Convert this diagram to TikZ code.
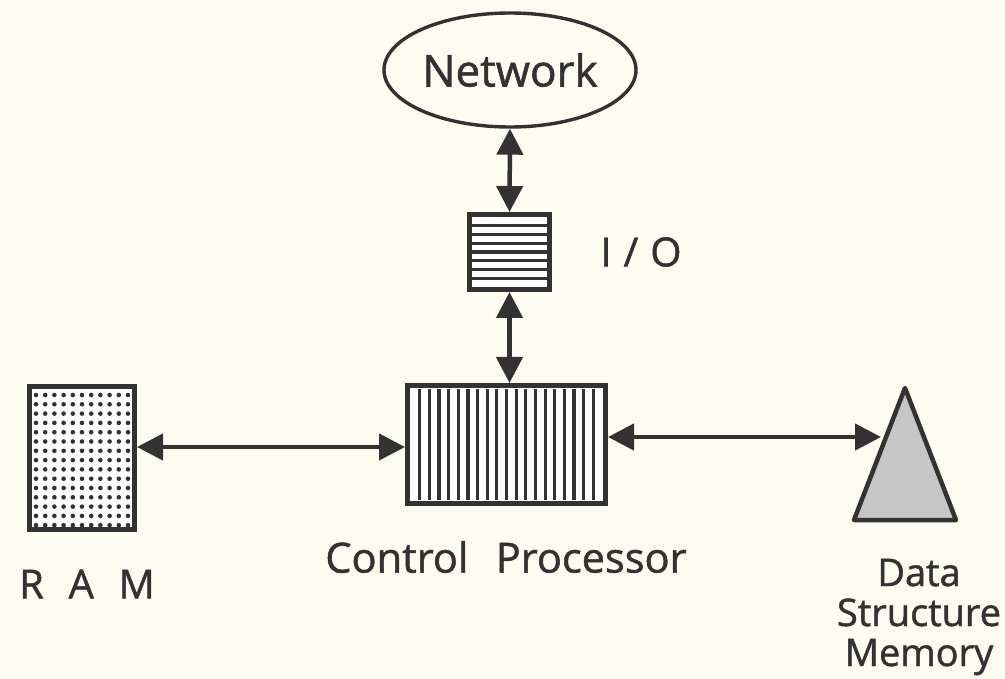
\documentclass[tikz,border=0pt]{standalone}
\usepackage{fontspec}
\setmainfont{Open Sans}
\newfontfamily\lblfont{Open Sans}[FakeBold=1.2]
\usetikzlibrary{arrows.meta,shapes.geometric}
\definecolor{paper}{RGB}{252,252,240}
\definecolor{ink}{RGB}{50,50,50}
\begin{document}
\begin{tikzpicture}[x=1pt,y=-1pt,
  box/.style={draw=ink,line width=5pt,fill=white,inner sep=0pt},
  link/.style={draw=ink,line width=4.5pt,
    {Triangle[length=26pt,width=26pt]}-{Triangle[length=26pt,width=26pt]}},
  stripe/.style={ink,line width=3.2pt},
  lbl/.style={text=ink,inner sep=0pt,font=\lblfont\fontsize{40}{44}\selectfont}]
\fill[paper] (0,0) rectangle (1005,679);
\useasboundingbox (0,0) rectangle (1005,679);

% network cloud
\node[draw=ink,line width=3.4pt,ellipse,minimum width=252pt,minimum height=114pt,
      inner sep=0pt,text=ink,font=\lblfont\fontsize{44}{48}\selectfont] (net) at (510,70) {Network};

% I/O buffer with horizontal bars
\node[box,minimum width=80pt,minimum height=75pt] (io) at (509.5,252) {};
\foreach \k in {1,...,7}
  \draw[stripe] (471,217+\k*8.75) -- (548,217+\k*8.75);
\node[lbl] (iolbl) at (641,252) {I\hspace{0.3em}/\hspace{0.3em}O};

% control processor with vertical bars
\node[box,minimum width=198pt,minimum height=118pt] (cp) at (506.5,444.5) {};
\foreach \k in {1,...,19}
  \draw[stripe] (410+\k*9.65,389) -- (410+\k*9.65,500);
\node[lbl,font=\lblfont\fontsize{41.5}{44}\selectfont] (cplbl) at (506,557) {Control\hspace{0.4em} Processor};

% RAM with dot grid
\node[box,minimum width=105pt,minimum height=143pt] (ram) at (82,458) {};
\foreach \i in {0,...,10}
  \foreach \j in {0,...,14}
    \fill[ink] (36+\i*9.2,395+\j*9.3) circle (2.3pt);
\node[lbl] (ramlbl) at (87,584) {R\hspace{0.62em}A\hspace{0.62em}M};

% data structure memory
\draw[ink,line width=4.5pt,fill=gray!45,line join=round]
  (905,388) -- (956,520) -- (854,520) -- cycle;
\coordinate (dsm) at (881,437);
\node[lbl,align=center,font=\lblfont\fontsize{38}{40}\selectfont] (dsmlbl) at (919,617)
  {Data\\Structure\\Memory};

% connections
\draw[link] (net.south) -- (io.north);
\draw[link] (io.south) -- (io.south |- cp.north);
\draw[link] ([yshift=11pt]ram.east) -- ([yshift=11pt]ram.east -| cp.west);
\draw[link] (cp.east |- dsm) -- (dsm);
\end{tikzpicture}
\end{document}
